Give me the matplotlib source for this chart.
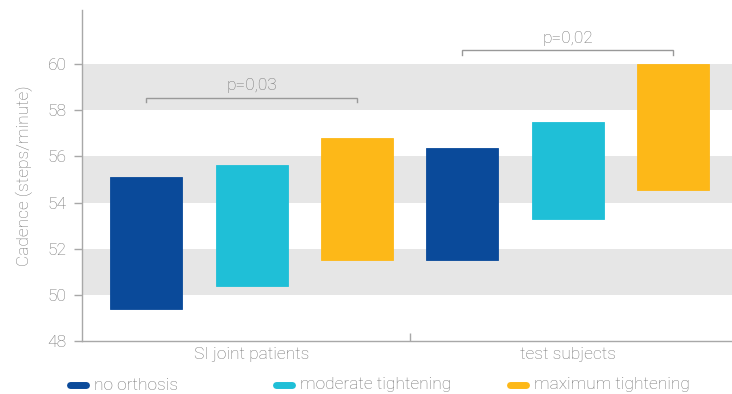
import matplotlib
matplotlib.use("Agg")
import matplotlib.pyplot as plt
from matplotlib.lines import Line2D
from matplotlib.ticker import FixedLocator, NullFormatter
import numpy as np

plt.rcParams['font.family'] = ['Roboto', 'DejaVu Sans']
plt.rcParams['font.weight'] = 'light'
plt.rcParams['axes.labelweight'] = 'light'

categories = ["SI joint patients", "test subjects"]
series = ["no orthosis", "moderate tightening", "maximum tightening"]
colors = ["#0a4a9a", "#1fbfd7", "#fdb818"]
# cadence ranges (low, high) per series, per category
low = {
    "no orthosis": [49.4, 51.5],
    "moderate tightening": [50.4, 53.3],
    "maximum tightening": [51.5, 54.55],
}
high = {
    "no orthosis": [55.1, 56.35],
    "moderate tightening": [55.65, 57.5],
    "maximum tightening": [56.8, 60.0],
}
p_labels = ["p=0,03", "p=0,02"]
p_levels = [58.55, 60.6]
yticks = [48, 50, 52, 54, 56, 58, 60]

text_color = "#737373"
axis_color = "#a8a8a8"
fs = 12.5

fig = plt.figure(figsize=(7.32, 3.94), dpi=100)
ax = fig.add_axes([0.1116, 0.1345, 0.8884, 0.84])

x = np.arange(len(categories))
offset = 1 / 3
width = 0.228

# alternating background bands
for y0 in (50, 54, 58):
    ax.axhspan(y0, y0 + 2, color="#e6e6e6", zorder=0, lw=0)

for i, s in enumerate(series):
    lo = np.array(low[s])
    hi = np.array(high[s])
    ax.bar(x + (i - 1) * offset, hi - lo, bottom=lo, width=width,
           color=colors[i], edgecolor=colors[i], linewidth=0.6, zorder=2)

# significance brackets between no orthosis and maximum tightening
for k in range(len(categories)):
    x0 = x[k] - offset
    x1 = x[k] + offset
    yb = p_levels[k]
    ax.plot([x0, x0, x1, x1], [yb - 0.2, yb, yb, yb - 0.2],
            color="#999999", lw=1.0, zorder=3, solid_joinstyle="miter")
    ax.text(x[k], yb + 0.2, p_labels[k], ha="center", va="bottom",
            fontsize=fs, color=text_color)

ax.set_ylim(48, 62.35)
ax.set_xlim(-0.538, 1.52)
ax.set_yticks(yticks)
ax.set_yticklabels([str(v) for v in yticks])
ax.set_xticks(x)
ax.set_xticklabels(categories)
ax.tick_params(axis="x", length=0, pad=4, labelsize=fs, labelcolor=text_color)
ax.xaxis.set_minor_locator(FixedLocator([0.5]))
ax.xaxis.set_minor_formatter(NullFormatter())
ax.tick_params(axis="x", which="minor", direction="in", length=6,
               color=axis_color, width=1)
ax.tick_params(axis="y", length=6, width=1, color=axis_color,
               labelsize=fs, labelcolor=text_color, pad=5)
ax.set_ylabel("Cadence (steps/minute)", fontsize=fs, color=text_color,
              labelpad=10)

for side in ("top", "right"):
    ax.spines[side].set_visible(False)
for side in ("left", "bottom"):
    ax.spines[side].set_color(axis_color)
    ax.spines[side].set_linewidth(1)

# legend row along the bottom edge
leg_y = 1 - 385 / 394
marker_x = [68, 274, 508]
for i, s in enumerate(series):
    xa = (marker_x[i] + 2) / 732
    xb = (marker_x[i] + 18) / 732
    fig.add_artist(Line2D([xa, xb], [leg_y, leg_y], transform=fig.transFigure,
                          color=colors[i], lw=5, solid_capstyle="round"))
    fig.text((marker_x[i] + 26) / 732, leg_y, s, ha="left", va="center",
             fontsize=fs, color=text_color)

fig.savefig("out.png", dpi=100)
